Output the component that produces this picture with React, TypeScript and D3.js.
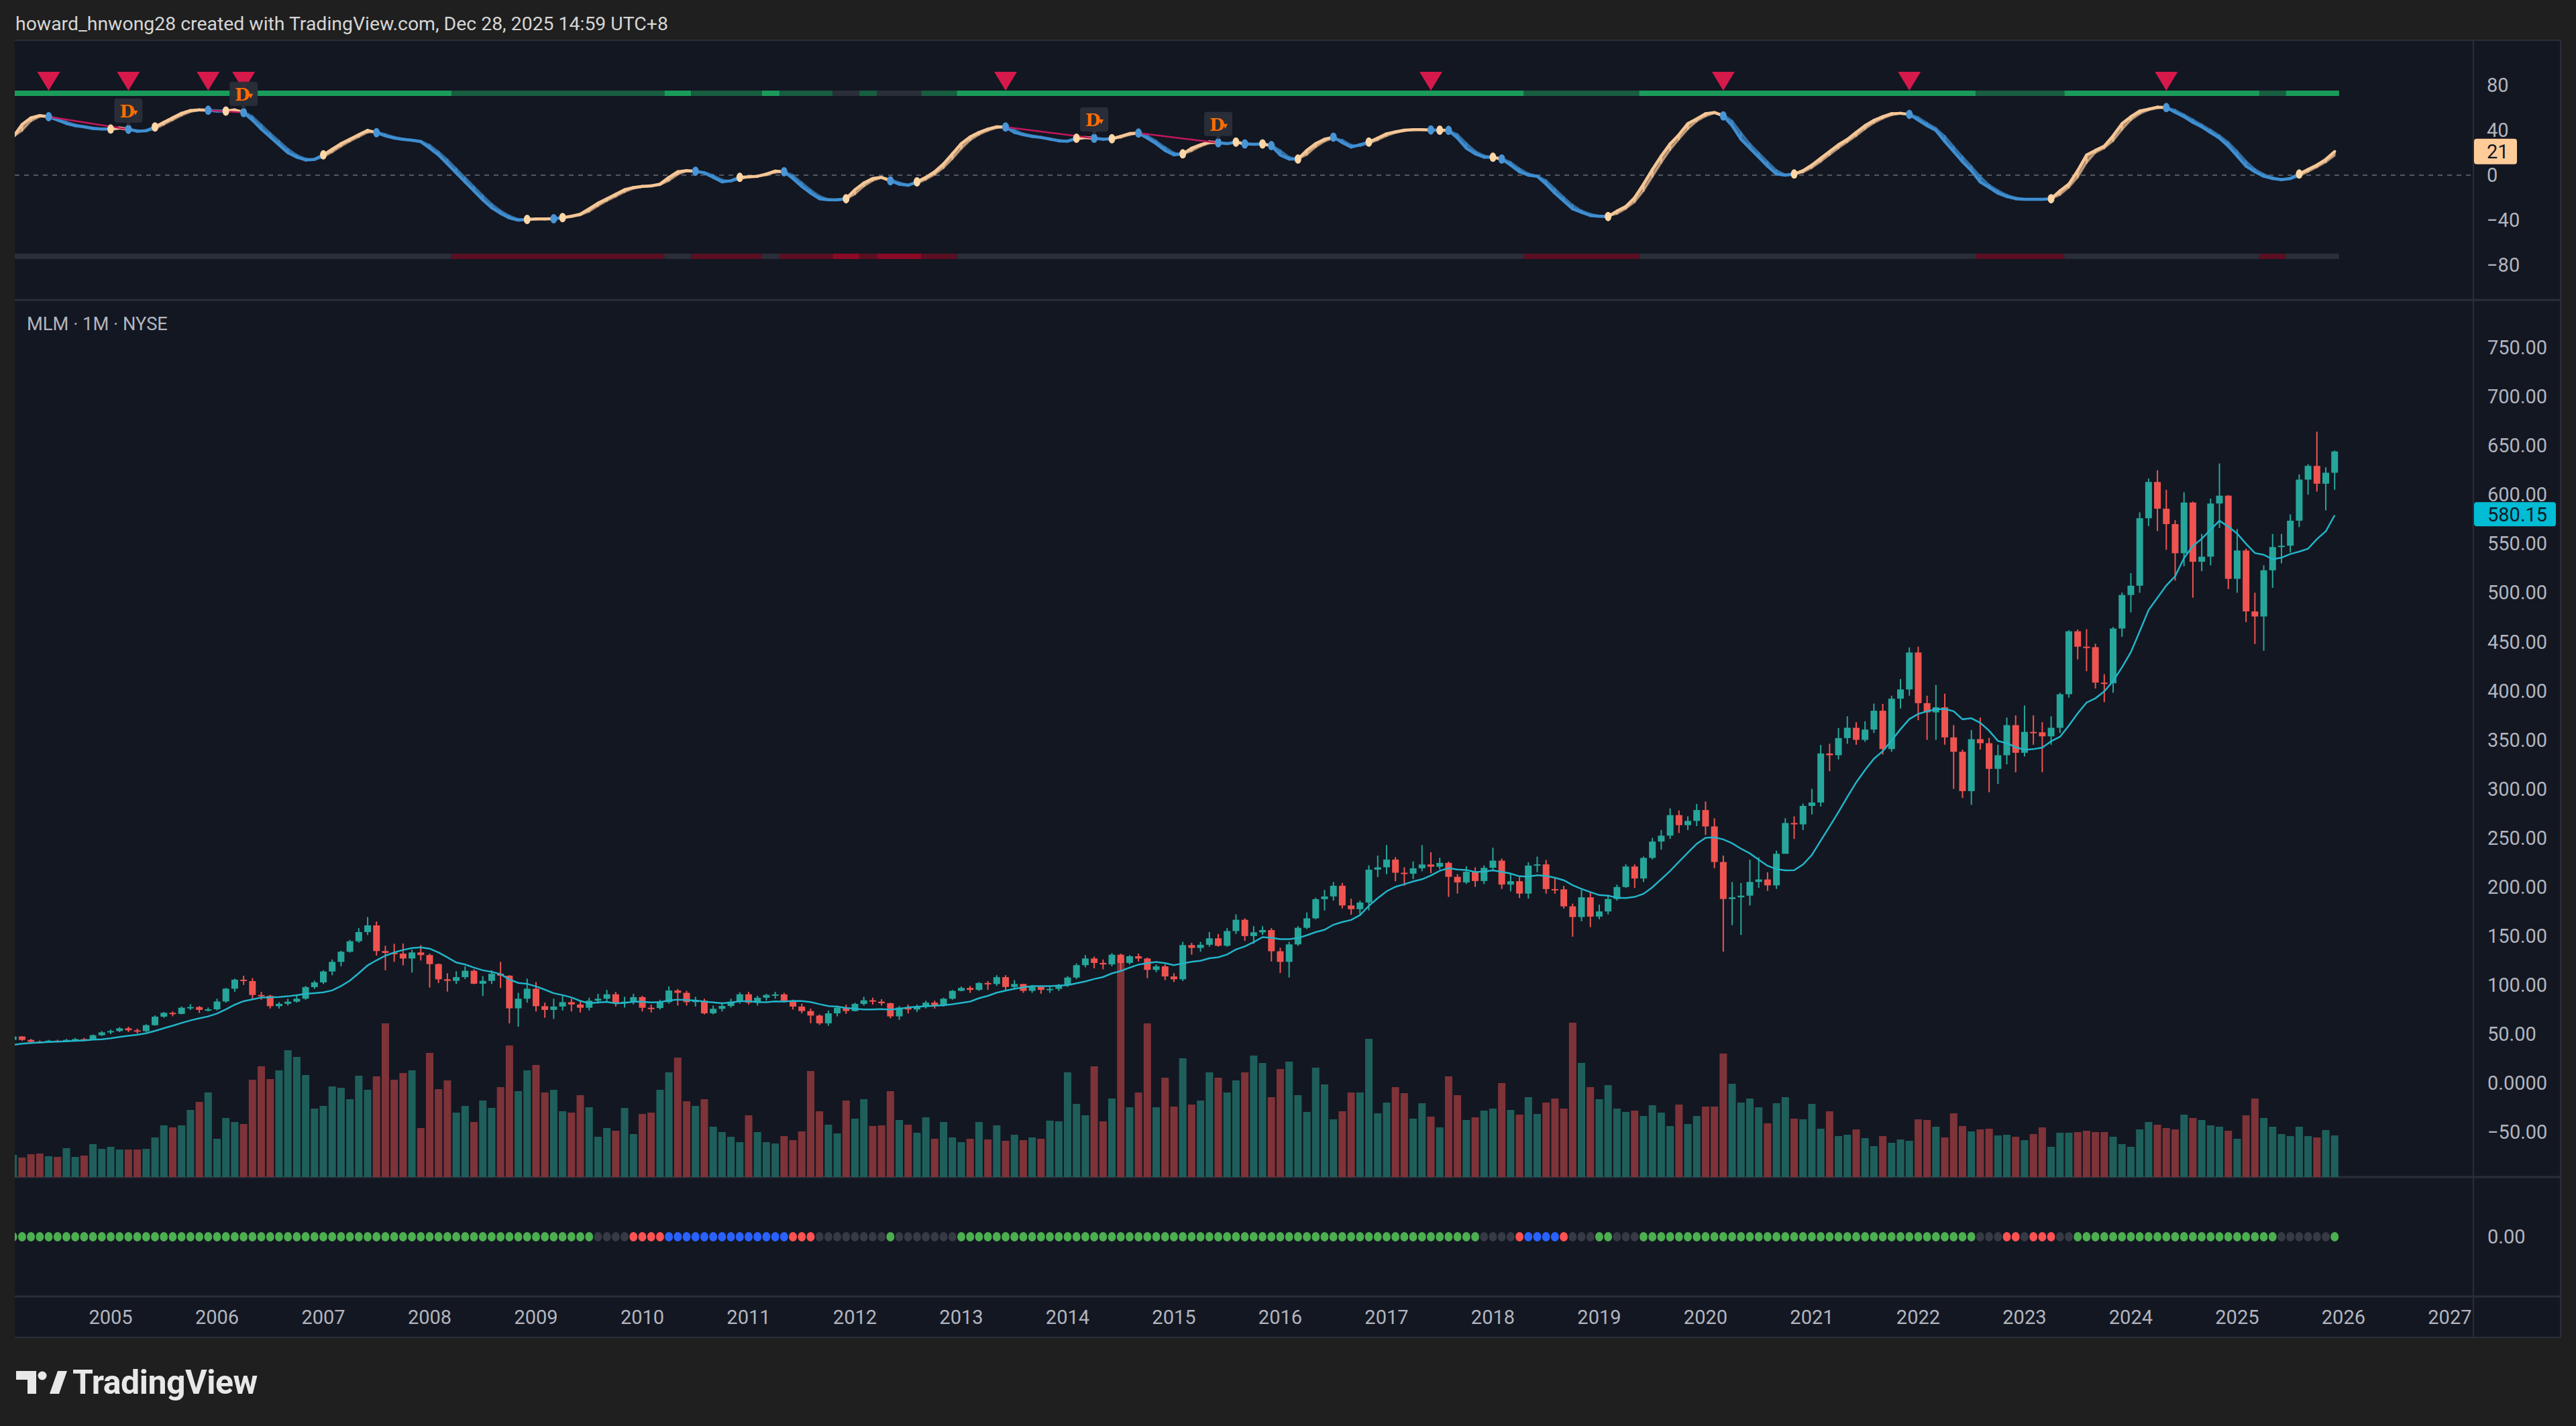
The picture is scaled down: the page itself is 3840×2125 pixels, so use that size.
import React from "react";
import * as d3 from "d3";

// ---------- DATA (monthly bars, Feb 2004 .. Dec 2025; month index 0 = Jan 2005) ----------
const startMonth = -11;
const firstOpen = 44.0;
const priorCloses = [33, 35, 36, 38, 39, 40, 40.5, 40.5, 40.5];

const closes = [
  47.5, 44.0, 42.0, 41.5, 43.2, 42.5, 44.0, 44.8, 44.3, 48.8, 51.7,
  53.0, 55.8, 53.8, 52.9, 59.0, 67.7, 71.6, 70.5, 76.8, 77.5, 74.6, 75.2,
  83.2, 96.2, 105.4, 104.0, 89.8, 89.0, 78.4, 80.8, 83.0, 86.0, 97.8, 102.6,
  113.8, 123.6, 133.9, 144.6, 154.0, 160.8, 134.6, 132.7, 132.0, 127.0, 133.2, 130.5,
  121.3, 105.8, 104.2, 108.0, 114.5, 101.3, 104.2, 111.5, 109.5, 76.2, 86.0, 96.2,
  78.4, 74.6, 78.0, 82.5, 80.1, 76.8, 84.0, 86.0, 90.5, 81.4, 83.0, 87.6,
  76.8, 76.5, 82.5, 94.4, 92.0, 82.5, 84.0, 71.1, 75.7, 78.6, 83.0, 90.5,
  81.9, 87.0, 89.8, 90.4, 83.7, 78.0, 73.4, 68.8, 60.9, 71.1, 76.8, 73.4,
  80.7, 84.4, 83.0, 81.4, 68.0, 77.0, 75.0, 78.0, 82.0, 79.0, 86.0, 94.0,
  97.0, 95.0, 102.0, 101.0, 108.0, 98.0, 101.0, 94.0, 98.0, 95.0, 96.0, 100.0,
  107.6, 120.2, 127.0, 122.5, 121.0, 130.9, 122.5, 129.3, 127.0, 115.4, 119.0, 108.7,
  105.8, 140.7, 137.8, 141.0, 147.6, 140.0, 155.0, 166.5, 149.9, 153.7, 156.0, 134.4,
  123.6, 141.4, 158.3, 168.0, 187.5, 190.3, 201.2, 181.1, 177.3, 184.1, 217.6, 220.0,
  227.9, 214.5, 213.5, 219.0, 222.9, 220.6, 224.5, 210.3, 204.6, 215.4, 206.0, 219.5,
  226.8, 202.4, 205.8, 193.2, 221.8, 223.0, 197.8, 197.5, 180.2, 169.3, 189.4, 169.7,
  175.0, 187.7, 199.9, 220.8, 208.6, 229.6, 246.3, 252.3, 273.2, 263.0, 267.3, 278.4,
  261.7, 225.4, 187.7, 189.4, 191.1, 205.1, 207.6, 201.6, 233.8, 265.2, 263.8, 282.6,
  286.1, 336.1, 334.3, 351.8, 362.3, 350.0, 360.5, 379.7, 340.6, 392.0, 401.4, 439.1,
  387.4, 378.0, 383.2, 352.5, 337.8, 297.7, 350.7, 346.6, 320.4, 334.3, 365.0, 336.8,
  358.1, 357.7, 353.6, 362.3, 396.5, 460.7, 445.0, 444.5, 408.4, 407.7, 463.5, 497.7,
  507.2, 576.0, 613.0, 585.7, 570.0, 540.3, 592.0, 531.6, 536.8, 591.0, 599.0, 514.2,
  543.1, 481.0, 475.8, 522.9, 546.6, 548.0, 573.5, 615.4, 629.4, 611.2, 622.4, 644.1,
];

const highs = [
  48.5, 47.8, 45.0, 43.5, 44.0, 44.2, 45.0, 46.0, 46.0, 49.5, 53.0,
  54.5, 57.0, 57.5, 55.5, 60.0, 69.0, 72.5, 73.0, 78.0, 80.5, 78.5, 77.0,
  86.0, 97.0, 106.5, 109.5, 107.0, 93.0, 90.0, 82.5, 86.0, 90.0, 99.0, 104.5,
  115.0, 126.0, 135.0, 146.0, 158.0, 169.3, 164.7, 140.0, 142.0, 142.3, 136.0, 140.7,
  132.0, 122.0, 112.0, 114.0, 119.0, 116.0, 109.0, 115.0, 123.6, 110.0, 92.0, 106.5,
  103.0, 82.0, 86.0, 90.0, 86.0, 84.0, 87.0, 91.0, 95.0, 93.0, 88.0, 91.0,
  89.0, 80.0, 85.0, 98.5, 96.0, 94.0, 88.0, 86.0, 79.0, 82.0, 86.0, 92.5,
  93.0, 89.0, 91.0, 93.0, 92.0, 85.0, 81.0, 76.0, 70.0, 74.0, 79.0, 80.0,
  82.0, 88.0, 87.0, 85.5, 82.0, 78.5, 80.0, 80.0, 84.0, 84.0, 87.0, 95.0,
  98.5, 99.0, 103.0, 104.0, 110.0, 110.0, 105.0, 101.0, 100.0, 99.0, 99.0, 101.0,
  109.0, 122.0, 130.5, 129.0, 126.0, 132.5, 132.0, 130.5, 132.0, 128.0, 121.0, 121.0,
  112.0, 144.0, 143.0, 144.0, 154.0, 152.0, 158.0, 172.0, 168.0, 160.0, 160.0, 158.0,
  138.0, 144.0, 160.0, 174.0, 189.0, 197.0, 205.0, 204.0, 188.0, 186.0, 222.0, 232.0,
  242.7, 230.4, 220.0, 226.0, 242.7, 235.4, 229.7, 226.0, 213.0, 221.0, 220.0, 222.0,
  240.0, 229.0, 214.0, 210.0, 225.2, 230.9, 227.5, 209.0, 201.0, 183.0, 197.0, 195.0,
  182.0, 192.0, 202.4, 223.0, 223.0, 231.0, 250.0, 258.0, 280.2, 278.0, 272.0, 284.7,
  287.2, 270.0, 232.0, 205.0, 204.0, 227.8, 230.3, 215.0, 237.0, 270.0, 272.0, 285.0,
  300.0, 344.8, 346.0, 362.0, 374.0, 368.0, 369.0, 387.0, 386.7, 395.0, 412.0, 444.3,
  445.0, 395.0, 406.0, 397.0, 365.0, 340.0, 360.0, 372.7, 352.0, 345.0, 372.7, 375.0,
  385.0, 375.0, 368.0, 374.0, 398.0, 461.8, 462.5, 462.8, 448.0, 417.0, 465.0, 500.2,
  520.0, 582.0, 616.5, 624.9, 605.0, 574.0, 602.5, 593.0, 560.0, 596.0, 631.8, 599.7,
  565.0, 545.0, 500.0, 528.0, 560.0, 560.0, 580.0, 620.7, 631.1, 664.3, 628.0, 645.1,
];

const lows = [
  43.5, 43.0, 40.5, 40.5, 41.0, 41.5, 42.0, 43.5, 43.5, 44.0, 48.0,
  50.0, 52.0, 52.0, 50.5, 52.0, 58.5, 66.5, 68.0, 70.0, 74.5, 71.5, 73.0,
  74.0, 82.0, 93.0, 100.0, 85.0, 85.0, 76.0, 76.0, 79.0, 82.0, 85.0, 96.0,
  101.0, 110.0, 119.0, 133.0, 143.0, 151.0, 130.0, 115.0, 123.6, 120.0, 112.7, 125.0,
  97.4, 102.0, 93.3, 101.0, 106.0, 100.8, 88.7, 101.0, 97.0, 60.9, 57.4, 82.0,
  73.0, 66.6, 65.4, 74.0, 73.0, 72.0, 74.0, 81.0, 83.0, 78.0, 77.0, 80.0,
  73.0, 72.0, 75.0, 81.0, 79.0, 79.0, 78.0, 70.0, 70.0, 73.0, 77.0, 81.0,
  80.0, 79.0, 84.0, 86.0, 82.0, 75.0, 71.0, 61.0, 59.3, 58.4, 68.0, 70.5,
  73.0, 79.0, 80.0, 79.0, 66.0, 64.5, 71.0, 72.5, 76.0, 76.0, 78.0, 85.0,
  93.5, 92.0, 94.0, 95.0, 99.0, 94.0, 96.0, 92.0, 92.0, 91.0, 92.0, 94.0,
  98.0, 106.0, 118.0, 117.0, 116.0, 119.0, 114.0, 121.0, 124.0, 107.0, 113.0, 105.0,
  103.0, 104.0, 131.0, 134.0, 139.0, 139.0, 139.0, 152.0, 145.0, 142.0, 151.0, 124.0,
  112.2, 107.7, 140.0, 157.0, 167.0, 176.0, 186.0, 178.0, 171.6, 172.0, 176.0, 210.0,
  213.0, 205.8, 201.2, 208.0, 216.0, 214.0, 218.0, 189.8, 193.2, 203.0, 200.0, 203.0,
  216.0, 198.0, 195.5, 188.7, 188.0, 215.0, 193.2, 193.0, 178.0, 149.2, 165.0, 159.0,
  167.0, 172.0, 186.0, 199.0, 199.0, 205.0, 228.0, 238.0, 249.0, 255.0, 258.0, 262.0,
  253.0, 219.1, 134.0, 161.0, 151.0, 181.0, 199.0, 196.0, 198.0, 235.8, 249.0, 258.0,
  274.0, 282.0, 318.0, 330.0, 346.0, 345.0, 348.0, 357.0, 335.0, 337.8, 382.0, 395.0,
  370.0, 350.0, 350.0, 345.0, 300.0, 290.7, 283.7, 340.0, 296.6, 305.0, 325.0, 316.9,
  333.0, 345.0, 317.0, 345.0, 357.0, 393.0, 432.0, 420.0, 402.4, 388.5, 398.0, 455.0,
  480.0, 500.0, 568.0, 563.0, 543.8, 512.4, 527.0, 495.0, 522.0, 528.0, 566.0, 503.7,
  500.0, 470.0, 447.8, 440.8, 505.0, 530.0, 541.0, 567.0, 600.0, 603.2, 584.0, 605.0,
];

// relative monthly volume (read as bar heights)
const volumes = [
  33, 29, 34, 35, 31, 30, 43, 30, 32, 49, 42,
  45, 41, 41, 41, 42, 59, 77, 74, 77, 100, 112, 126,
  57, 88, 82, 79, 145, 165, 146, 159, 189, 179, 152, 102,
  106, 135, 133, 116, 151, 130, 150, 229, 145, 155, 159, 73,
  185, 131, 144, 96, 106, 82, 114, 103, 134, 196, 128, 159,
  167, 126, 130, 98, 96, 122, 104, 60, 73, 69, 103, 64,
  94, 96, 130, 156, 178, 113, 106, 116, 75, 67, 60, 52,
  92, 67, 52, 50, 61, 55, 68, 158, 98, 78, 65, 114,
  87, 116, 76, 77, 128, 85, 78, 66, 89, 57, 82, 59,
  52, 57, 82, 56, 77, 54, 63, 55, 59, 57, 84, 83,
  156, 109, 92, 165, 83, 117, 327, 104, 126, 229, 104, 148,
  105, 177, 108, 114, 156, 148, 126, 144, 156, 181, 170, 119,
  161, 172, 122, 97, 163, 138, 86, 98, 126, 126, 206, 95,
  111, 134, 125, 87, 110, 90, 74, 150, 122, 85, 89, 99,
  102, 140, 100, 93, 119, 94, 111, 117, 102, 230, 170, 134,
  116, 137, 102, 97, 99, 91, 107, 96, 76, 108, 79, 91,
  105, 105, 184, 139, 111, 117, 104, 80, 110, 119, 87, 86,
  109, 72, 98, 61, 63, 71, 58, 46, 61, 51, 56, 54,
  86, 85, 75, 59, 95, 76, 68, 71, 72, 62, 63, 60,
  55, 64, 74, 45, 66, 66, 67, 69, 67, 67, 60, 49,
  45, 71, 82, 78, 73, 71, 93, 88, 85, 77, 75, 69,
  57, 92, 117, 88, 75, 64, 61, 75, 61, 59, 70, 62,
];

// oscillator (top pane)
const oscValues = [
  34, 45, 51, 53, 52, 49, 46, 44, 43, 41.5, 41,
  41, 42, 40.8, 39, 39.5, 42.8, 47, 51, 55, 57.5, 58, 57.7,
  57, 57, 58, 55.7, 49, 41, 34, 27, 20, 16, 13.5, 14,
  18, 23, 28, 32, 36, 39.8, 37.8, 35, 33, 31.8, 31, 29.8,
  24, 17.9, 10, 2, -6, -14, -22, -29, -34, -38, -40, -39.4,
  -39, -39, -38.8, -37.8, -36.5, -34.8, -30, -25, -21, -17, -13, -11,
  -10, -9.6, -8, -2, 3, 4, 3.5, 2, -2, -6, -5, -2,
  -1.5, -1, 1, 3.6, 3, -3, -10, -16, -21, -22, -22, -21,
  -13, -7, -3, -2, -5, -8, -9, -6, -2, 3, 10, 19,
  28, 34, 38, 41, 43, 42.8, 38, 36, 34.5, 33.5, 32, 30.5,
  30.2, 32.8, 33.5, 32.8, 32, 32.4, 34.5, 37, 37.4, 33, 28, 22,
  18, 18.9, 24, 27, 29.5, 28.8, 28, 29.4, 27.8, 27.5, 27.8, 26.2,
  18, 14.3, 14.3, 22, 28, 32, 33.8, 29, 25, 27, 29.4, 33,
  36.8, 38.5, 40, 40.5, 40.5, 40.2, 40, 39.8, 33, 24, 19, 16,
  15.9, 14.3, 9, 3, 0, -1, -8, -16, -23, -30, -33, -35.9,
  -36.5, -36.8, -32, -27.9, -20, -8, 5, 17, 27.8, 36, 45.8, 50,
  54.7, 55.7, 52.7, 44, 32, 24, 16, 8, 1, 0, 1, 4,
  9, 15, 21, 27, 31.8, 38, 44, 48.7, 52, 54.7, 55, 54.1,
  49, 44, 39.8, 30, 21, 12, 4, -6, -11, -16, -19, -21,
  -21.5, -21.5, -21.5, -21, -14, -8, 4, 17.9, 22, 25.8, 35, 45.8,
  52, 57, 58.7, 60.5, 60.1, 56, 52, 47, 43, 37.8, 33, 25.8,
  17, 8, 3, -1, -3, -4, -3, 1, 5, 9, 14, 21,
];

const bullCrosses = [0, 5, 13, 24, 47, 51, 71, 83, 91, 109, 113, 121, 127, 130, 134, 142, 150, 156, 169, 190, 219, 247];
const bearCrosses = [-7, 2, 11, 15, 30, 50, 66, 76, 88, 101, 111, 116, 125, 128, 131, 138, 149, 151, 157, 182, 203, 232];
const sellTriangles = [-7, 2, 11, 15, 101, 149, 182, 203, 232];
const divergencePairs = [[-7, 2], [11, 15], [101, 111], [116, 125]];
const divergenceLabels = [2, 15, 111, 125];

// trend band state: 2 strong, 1 neutral, 0 weak
const bandRuns = [
  [-11, 38, 2], [39, 62, 1], [63, 65, 2], [66, 73, 1], [74, 75, 2], [76, 81, 1],
  [82, 84, 0], [85, 86, 1], [87, 91, 0], [92, 95, 1], [96, 159, 2], [160, 172, 1],
  [173, 210, 2], [211, 220, 1], [221, 242, 2], [243, 245, 1], [246, 251, 2],
];

// bottom dot row: g green, x gray, r red, b blue
const dotRuns = [
  [-11, 54, "g"], [55, 58, "x"], [59, 62, "r"], [63, 76, "b"], [77, 79, "r"], [80, 87, "x"],
  [88, 88, "g"], [89, 95, "x"], [96, 154, "g"], [155, 158, "x"], [159, 159, "r"], [160, 163, "b"],
  [164, 164, "r"], [165, 167, "x"], [168, 169, "g"], [170, 172, "x"], [173, 210, "g"], [211, 213, "x"],
  [214, 215, "r"], [216, 216, "x"], [217, 219, "r"], [220, 221, "x"], [222, 244, "g"], [245, 250, "x"],
  [251, 251, "g"],
];

const priceTicks = [750, 700, 650, 600, 550, 500, 450, 400, 350, 300, 250, 200, 150, 100, 50, 0, -50];
const priceTickLabels = ["750.00", "700.00", "650.00", "600.00", "550.00", "500.00", "450.00", "400.00", "350.00", "300.00", "250.00", "200.00", "150.00", "100.00", "50.00", "0.0000", "\u221250.00"];
const oscTicks = [80, 40, 0, -40, -80];
const oscTickLabels = ["80", "40", "0", "\u221240", "\u221280"];
const yearLabels = [2005, 2006, 2007, 2008, 2009, 2010, 2011, 2012, 2013, 2014, 2015, 2016, 2017, 2018, 2019, 2020, 2021, 2022, 2023, 2024, 2025, 2026, 2027];
const maPeriod = 10;
const maLastValue = 580.15;
const oscLastValue = 21;

// ---------- LAYOUT ----------
const W = 3840;
const H = 2125;
const L = 22;
const AX = 3687;
const R = 3817;
const TOP = 60;
const OSC_BOTTOM = 447;
const PRICE_BOTTOM = 1754;
const DOTS_BOTTOM = 1932;
const AXIS_BOTTOM = 1993;

const FONT = "Roboto, 'Noto Sans', 'DejaVu Sans', sans-serif";
const AXIS_TEXT = "#b2b5be";
const GRID = "#2a2e39";
const UP = "#26a69a";
const DOWN = "#ef5350";
const TAN = "#f6c796";
const BLUE = "#3f8fd2";

export default function App() {
  const n = closes.length;
  const months = d3.range(n).map((k) => startMonth + k);
  const x = d3.scaleLinear().domain([0, 264]).range([165, 165 + 264 * 13.208]);
  const yPrice = d3.scaleLinear().domain([-50, 750]).range([1687, 518]);
  const yVol = d3.scaleLinear().domain([0, 400]).range([PRICE_BOTTOM, PRICE_BOTTOM - 400]);
  const yOsc = d3.scaleLinear().domain([-80, 80]).range([395, 127]);

  const opens = closes.map((c, k) => (k === 0 ? firstOpen : closes[k - 1]));
  const all = priorCloses.concat(closes);
  const ma = closes.map((_, k) => {
    const end = k + priorCloses.length + 1;
    return d3.mean(all.slice(Math.max(0, end - maPeriod), end)) as number;
  });

  const signal = oscValues.map((v, k) => (k === 0 ? v : (v + oscValues[k - 1]) / 2));
  const bullSet = new Set(bullCrosses);
  const bearSet = new Set(bearCrosses);
  const state: boolean[] = [];
  let cur = true;
  months.forEach((m) => {
    if (bullSet.has(m)) cur = true;
    if (bearSet.has(m)) cur = false;
    state.push(cur);
  });
  const idx = (m: number) => m - startMonth;

  const maLine = d3
    .line<number>()
    .x((_, k) => x(months[k]))
    .y((v) => yPrice(v))(ma) as string;

  const half = 13.208 / 2;
  const bandTop = (s: number) => (s === 2 ? "#1a9b5a" : s === 1 ? "#175e40" : "#2a2e39");
  const bandBot = (s: number) => (s === 2 ? "#2a2e39" : s === 1 ? "#5a0f22" : "#8a0a26");
  const dotColor: Record<string, string> = { g: "#4caf50", x: "#363a45", r: "#ff5252", b: "#2962ff" };

  return (
    <svg width={W} height={H} style={{ position: "absolute", left: 0, top: 0, display: "block" }} fontFamily={FONT}>
      <defs>
        <clipPath id="plot">
          <rect x={L} y={TOP} width={AX - L} height={DOTS_BOTTOM - TOP} />
        </clipPath>
      </defs>
      <rect x={0} y={0} width={W} height={H} fill="#1f1f1f" />
      <text x={23} y={45} fontSize={28.4} fill="#d6d6d6">
        howard_hnwong28 created with TradingView.com, Dec 28, 2025 14:59 UTC+8
      </text>
      <rect x={L} y={TOP} width={R - L} height={AXIS_BOTTOM - TOP} fill="#131722" />

      {/* pane separators */}
      <line x1={L} x2={R} y1={TOP} y2={TOP} stroke={GRID} strokeWidth={2} />
      <line x1={L} x2={R} y1={OSC_BOTTOM} y2={OSC_BOTTOM} stroke={GRID} strokeWidth={3} />
      <line x1={L} x2={R} y1={PRICE_BOTTOM} y2={PRICE_BOTTOM} stroke={GRID} strokeWidth={3} />
      <line x1={L} x2={R} y1={DOTS_BOTTOM} y2={DOTS_BOTTOM} stroke={GRID} strokeWidth={3} />
      <line x1={AX} x2={AX} y1={TOP} y2={AXIS_BOTTOM} stroke={GRID} strokeWidth={2} />
      <line x1={R} x2={R} y1={TOP} y2={AXIS_BOTTOM} stroke={GRID} strokeWidth={2} />
      <line x1={L} x2={R} y1={AXIS_BOTTOM} y2={AXIS_BOTTOM} stroke={GRID} strokeWidth={2} />

      <g clipPath="url(#plot)">
        {/* ---- oscillator pane ---- */}
        <line x1={L} x2={AX} y1={yOsc(0)} y2={yOsc(0)} stroke="#555863" strokeWidth={2} strokeDasharray="7 7" />
        {bandRuns.map(([a, b, s], k) => (
          <g key={"band" + k}>
            <rect x={x(a) - half} y={135} width={x(b) - x(a) + 2 * half} height={8} fill={bandTop(s)} />
            <rect x={x(a) - half} y={378} width={x(b) - x(a) + 2 * half} height={8} fill={bandBot(s)} />
          </g>
        ))}
        {months.slice(0, -1).map((m, k) => {
          const x0 = x(m);
          const x1 = x(m + 1);
          const pts = [
            [x0, yOsc(oscValues[k])],
            [x1, yOsc(oscValues[k + 1])],
            [x1, yOsc(signal[k + 1])],
            [x0, yOsc(signal[k])],
          ];
          const col = state[k] ? TAN : BLUE;
          return (
            <g key={"osc" + k}>
              <polygon points={pts.map((p) => p.join(",")).join(" ")} fill={col} fillOpacity={0.6} stroke={col} strokeOpacity={0.6} strokeWidth={3} strokeLinejoin="round" />
              <line x1={x0} y1={yOsc(oscValues[k])} x2={x1} y2={yOsc(oscValues[k + 1])} stroke={col} strokeWidth={4.5} strokeLinecap="round" />
            </g>
          );
        })}
        {divergencePairs.map(([a, b], k) => (
          <line key={"div" + k} x1={x(a)} y1={yOsc(oscValues[idx(a)])} x2={x(b)} y2={yOsc(oscValues[idx(b)])} stroke="#c2185b" strokeWidth={2.5} />
        ))}
        {bullCrosses.map((m) => (
          <ellipse key={"bu" + m} cx={x(m)} cy={yOsc(oscValues[idx(m)])} rx={5} ry={7} fill="#ffd6a5" />
        ))}
        {bearCrosses.map((m) => (
          <ellipse key={"be" + m} cx={x(m)} cy={yOsc(oscValues[idx(m)])} rx={5} ry={7} fill="#4a95d6" />
        ))}
        {sellTriangles.map((m) => (
          <path key={"tri" + m} d={`M${x(m) - 17},107 L${x(m) + 17},107 L${x(m)},135 Z`} fill="#d6194b" />
        ))}
        {divergenceLabels.map((m) => {
          const cy = yOsc(oscValues[idx(m)]);
          const bx = x(m) - 21;
          const by = cy - 46;
          return (
            <g key={"dl" + m}>
              <rect x={bx} y={by} width={42} height={36} rx={4} fill="#2a2e39" fillOpacity={0.95} />
              <path d={`M${x(m) - 4},${by + 36} L${x(m) + 4},${by + 36} L${x(m)},${by + 41} Z`} fill="#2a2e39" />
              <text x={bx + 8} y={by + 28} fontSize={26} fontWeight={700} fill="#ff6d00" fontFamily="'DejaVu Serif', serif">D</text>
              <path d={`M${bx + 28},${by + 18} L${bx + 35},${by + 18} L${bx + 31.5},${by + 25} Z`} fill="#ff6d00" />
            </g>
          );
        })}

        {/* ---- price pane: volume ---- */}
        {months.map((m, k) => {
          const up = closes[k] >= opens[k];
          return (
            <rect key={"v" + k} x={x(m) - 5.5} y={yVol(volumes[k])} width={11} height={PRICE_BOTTOM - yVol(volumes[k])} fill={up ? "#1f5f5b" : "#7e3338"} />
          );
        })}
        {/* candles */}
        {months.map((m, k) => {
          const o = opens[k];
          const c = closes[k];
          const up = c >= o;
          const col = up ? UP : DOWN;
          const yt = yPrice(Math.max(o, c));
          const yb = yPrice(Math.min(o, c));
          return (
            <g key={"c" + k}>
              <line x1={x(m)} x2={x(m)} y1={yPrice(highs[k])} y2={yPrice(lows[k])} stroke={col} strokeWidth={2} />
              <rect x={x(m) - 5} y={yt} width={10} height={Math.max(2, yb - yt)} fill={col} />
            </g>
          );
        })}
        <path d={maLine} fill="none" stroke="#22b5c9" strokeWidth={2.5} />

        {/* ---- bottom dot pane ---- */}
        {dotRuns.map(([a, b, c]) =>
          d3.range(a as number, (b as number) + 1).map((m) => (
            <ellipse key={"d" + m} cx={x(m)} cy={1843} rx={6} ry={7} fill={dotColor[c as string]} />
          ))
        )}
      </g>

      <text x={40} y={492} fontSize={27.3} fill="#b2b5be">MLM · 1M · NYSE</text>

      {/* osc axis */}
      {oscTicks.map((t, k) => (
        <text key={"ot" + t} x={3707} y={yOsc(t)} dy="0.35em" fontSize={29} fill={AXIS_TEXT}>{oscTickLabels[k]}</text>
      ))}
      <rect x={3688} y={yOsc(oscLastValue) - 19} width={64} height={38} rx={4} fill="#ffcc99" />
      <text x={3707} y={yOsc(oscLastValue)} dy="0.36em" fontSize={29} fill="#131722">{oscLastValue}</text>

      {/* price axis */}
      {priceTicks.map((t, k) => (
        <text key={"pt" + t} x={3708} y={yPrice(t)} dy="0.35em" fontSize={29} fill={AXIS_TEXT}>{priceTickLabels[k]}</text>
      ))}
      <rect x={3688} y={yPrice(maLastValue) - 18} width={122} height={36} rx={4} fill="#00bcd4" />
      <text x={3708} y={yPrice(maLastValue)} dy="0.36em" fontSize={29} fill="#131722">{maLastValue.toFixed(2)}</text>

      {/* dots axis */}
      <text x={3708} y={1843} dy="0.35em" fontSize={29} fill={AXIS_TEXT}>0.00</text>

      {/* time axis */}
      {yearLabels.map((yr) => (
        <text key={"y" + yr} x={x((yr - 2005) * 12)} y={1963} dy="0.35em" textAnchor="middle" fontSize={29} fill={AXIS_TEXT}>{yr}</text>
      ))}

      {/* logo */}
      <g fill="#e8e8e8">
        <path d="M24,2043 H54 V2077 H41 V2056 H24 Z" />
        <circle cx={63} cy={2050} r={6.5} />
        <path d="M74,2077 L86,2043 H100 L88,2077 Z" />
        <text x={108} y={2077} fontSize={50} fontWeight={700} letterSpacing={-0.5}>TradingView</text>
      </g>
    </svg>
  );
}
